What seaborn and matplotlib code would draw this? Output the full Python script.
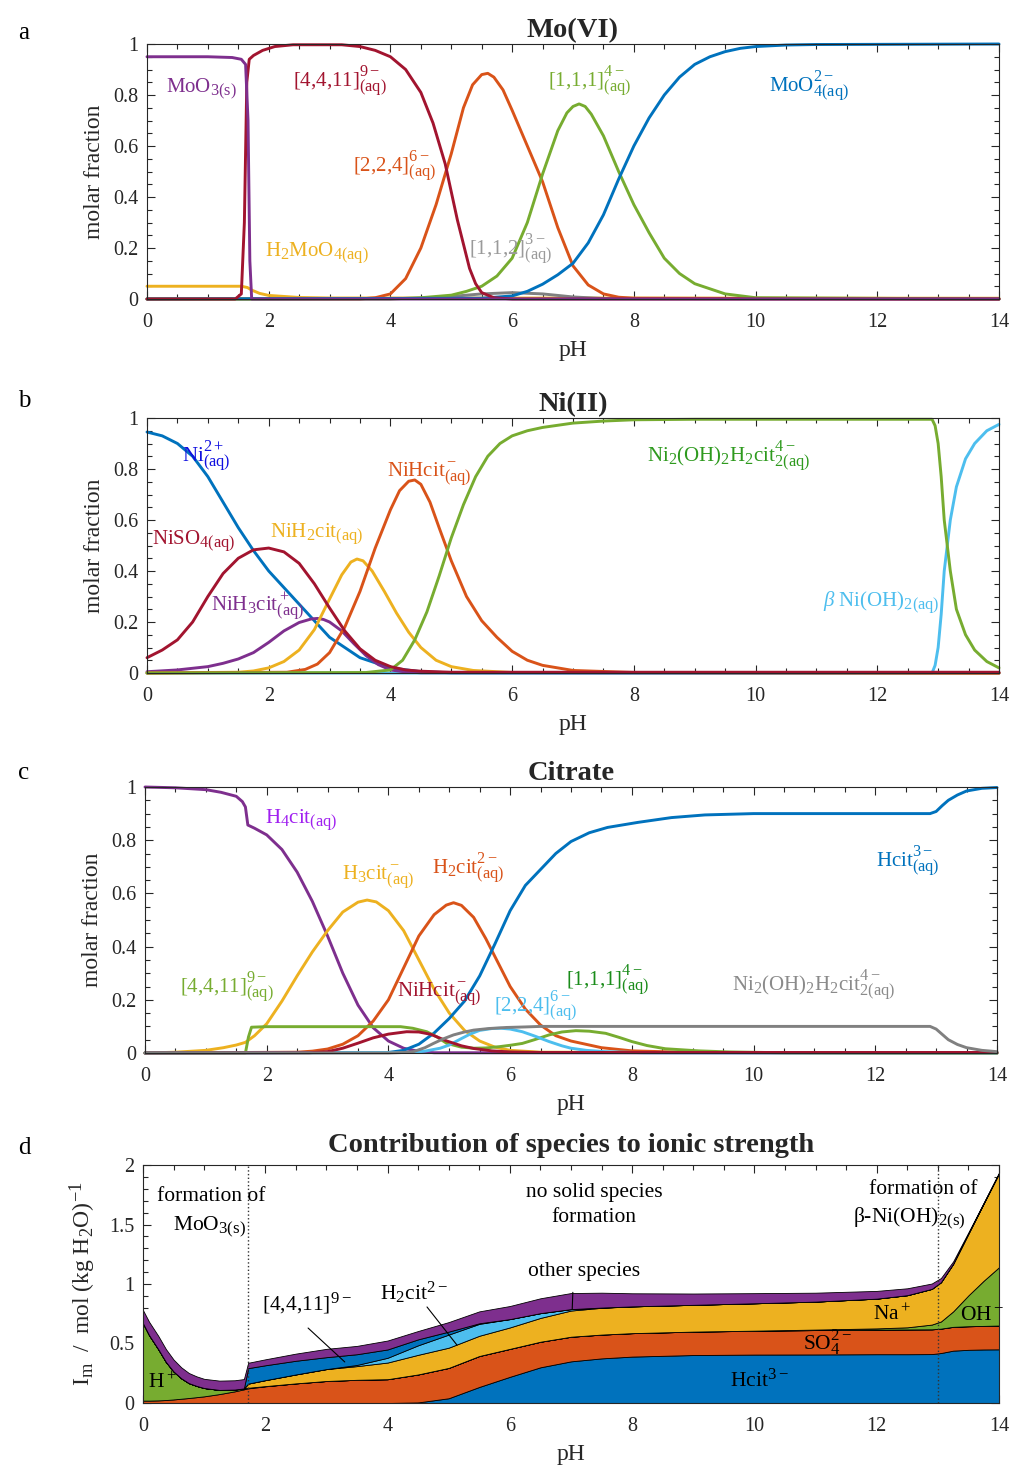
import numpy as np
import pandas as pd
import matplotlib
matplotlib.use('Agg')
import matplotlib.pyplot as plt
import seaborn as sns
from matplotlib.ticker import MultipleLocator, FuncFormatter
try:
    import matplotlib._mathtext as _mt
    _mt.SHRINK_FACTOR = 0.78
except Exception:
    pass

# ---------------- colours ----------------
C_BLUE = '#0072BD'; C_ORANGE = '#D95319'; C_YELLOW = '#EDB120'; C_PURPLE = '#7E2F8E'
C_GREEN = '#77AC30'; C_LBLUE = '#4DBEEE'; C_RED = '#A2142F'; C_GRAY = '#808080'

# ---------------- panel a : Mo(VI) ----------------
a_ph_moo3 = [0, 1.0, 1.4, 1.55, 1.62, 1.66, 1.69, 1.72, 14]
a_moo3 = [0.95, 0.95, 0.947, 0.94, 0.92, 0.7, 0.15, 0.0, 0.0]
a_ph_4411 = [0, 1.45, 1.55, 1.6, 1.64, 1.68, 1.75, 1.9, 2.1, 2.4, 3.2, 3.5, 3.75, 4.0, 4.25, 4.5, 4.7, 4.9, 5.1, 5.3, 5.4, 5.5, 5.7, 6.0, 14]
a_4411 = [0, 0, 0.02, 0.3, 0.85, 0.94, 0.955, 0.975, 0.99, 0.997, 0.997, 0.99, 0.975, 0.95, 0.9, 0.81, 0.69, 0.53, 0.31, 0.12, 0.06, 0.025, 0.005, 0, 0]
a_ph_224 = [0, 3.5, 3.75, 4.0, 4.25, 4.5, 4.75, 5.0, 5.2, 5.35, 5.5, 5.6, 5.7, 5.85, 6.0, 6.25, 6.5, 6.75, 7.0, 7.25, 7.5, 7.75, 8.0, 14]
a_224 = [0, 0, 0.005, 0.02, 0.08, 0.2, 0.37, 0.57, 0.75, 0.84, 0.88, 0.885, 0.87, 0.82, 0.74, 0.6, 0.46, 0.28, 0.13, 0.055, 0.02, 0.007, 0.003, 0]
a_ph_111 = [0, 4.0, 4.5, 5.0, 5.25, 5.5, 5.75, 6.0, 6.25, 6.5, 6.75, 6.9, 7.0, 7.1, 7.2, 7.3, 7.5, 7.75, 8.0, 8.25, 8.5, 8.75, 9.0, 9.5, 10.0, 14]
a_111 = [0, 0, 0.005, 0.015, 0.03, 0.05, 0.09, 0.16, 0.3, 0.49, 0.66, 0.73, 0.755, 0.765, 0.755, 0.725, 0.64, 0.5, 0.37, 0.26, 0.16, 0.1, 0.06, 0.02, 0.005, 0]
a_ph_moo4 = [0, 5.5, 6.0, 6.25, 6.5, 6.75, 7.0, 7.25, 7.5, 7.75, 8.0, 8.25, 8.5, 8.75, 9.0, 9.25, 9.5, 9.75, 10.0, 10.5, 11.0, 14]
a_moo4 = [0, 0.003, 0.012, 0.03, 0.058, 0.095, 0.14, 0.22, 0.33, 0.47, 0.6, 0.71, 0.8, 0.87, 0.92, 0.95, 0.97, 0.983, 0.99, 0.996, 0.998, 1.0]
a_ph_112 = [0, 4.5, 5.0, 5.5, 6.0, 6.5, 7.0, 7.5, 14]
a_112 = [0, 0.002, 0.01, 0.02, 0.025, 0.02, 0.008, 0.002, 0]
a_ph_h2moo4 = [0, 1.55, 1.65, 1.72, 1.85, 2.0, 2.5, 3.0, 14]
a_h2moo4 = [0.05, 0.05, 0.045, 0.035, 0.022, 0.014, 0.006, 0.004, 0.003]

# ---------------- panel b : Ni(II) ----------------
b_ph_ni = [0, 0.25, 0.5, 0.75, 1.0, 1.25, 1.5, 1.75, 2.0, 2.5, 3.0, 3.5, 4.0, 4.5, 5.0, 14]
b_ni = [0.945, 0.93, 0.9, 0.85, 0.77, 0.67, 0.57, 0.48, 0.40, 0.27, 0.14, 0.06, 0.02, 0.005, 0.001, 0]
b_ph_niso4 = [0, 0.25, 0.5, 0.75, 1.0, 1.25, 1.5, 1.75, 2.0, 2.25, 2.5, 2.75, 3.0, 3.25, 3.5, 3.75, 4.0, 4.25, 4.5, 5.0, 14]
b_niso4 = [0.06, 0.09, 0.13, 0.2, 0.3, 0.39, 0.45, 0.483, 0.49, 0.475, 0.43, 0.35, 0.255, 0.165, 0.095, 0.05, 0.025, 0.012, 0.007, 0.003, 0.003]
b_ph_nih3 = [0, 0.5, 1.0, 1.25, 1.5, 1.75, 2.0, 2.25, 2.5, 2.7, 2.8, 2.9, 3.0, 3.2, 3.4, 3.6, 3.8, 4.0, 4.25, 4.5, 14]
b_nih3 = [0.005, 0.012, 0.025, 0.038, 0.055, 0.08, 0.12, 0.165, 0.198, 0.212, 0.214, 0.21, 0.2, 0.165, 0.115, 0.068, 0.033, 0.012, 0.004, 0.001, 0]
b_ph_nih2 = [0, 1.5, 1.75, 2.0, 2.25, 2.5, 2.75, 3.0, 3.2, 3.35, 3.45, 3.55, 3.7, 3.9, 4.1, 4.3, 4.5, 4.75, 5.0, 5.36, 6.0, 14]
b_nih2 = [0, 0.003, 0.008, 0.02, 0.045, 0.09, 0.17, 0.29, 0.385, 0.435, 0.447, 0.44, 0.4, 0.32, 0.235, 0.16, 0.1, 0.05, 0.025, 0.01, 0.002, 0]
b_ph_nihcit = [0, 2.3, 2.6, 2.8, 3.0, 3.25, 3.5, 3.75, 4.0, 4.15, 4.3, 4.4, 4.5, 4.65, 4.8, 5.0, 5.25, 5.5, 5.75, 6.0, 6.25, 6.5, 7.0, 8.0, 14]
b_nihcit = [0, 0.003, 0.014, 0.035, 0.08, 0.18, 0.32, 0.49, 0.64, 0.715, 0.752, 0.757, 0.74, 0.67, 0.57, 0.44, 0.3, 0.205, 0.14, 0.085, 0.05, 0.03, 0.01, 0.002, 0]
b_ph_ni2 = [0, 3.6, 4.0, 4.2, 4.4, 4.6, 4.8, 5.0, 5.2, 5.4, 5.6, 5.8, 6.0, 6.25, 6.5, 7.0, 7.5, 8.0, 9.0, 12.9, 12.95, 13.0, 13.05, 13.1, 13.2, 13.3, 13.45, 13.6, 13.8, 14.0]
b_ni2 = [0, 0.002, 0.012, 0.05, 0.13, 0.24, 0.38, 0.53, 0.66, 0.77, 0.85, 0.9, 0.93, 0.95, 0.963, 0.98, 0.988, 0.993, 0.995, 0.995, 0.97, 0.9, 0.77, 0.6, 0.4, 0.25, 0.15, 0.09, 0.045, 0.02]
b_ph_bni = [0, 12.9, 12.95, 13.0, 13.05, 13.1, 13.2, 13.3, 13.45, 13.6, 13.8, 14.0]
b_bni = [0, 0, 0.03, 0.1, 0.23, 0.4, 0.6, 0.73, 0.84, 0.9, 0.95, 0.975]

# ---------------- panel c : Citrate ----------------
c_ph_h4 = [0, 0.5, 1.0, 1.25, 1.5, 1.6, 1.65, 1.69, 1.8, 2.0, 2.25, 2.5, 2.75, 3.0, 3.25, 3.5, 3.75, 4.0, 4.25, 4.5, 4.75, 14]
c_h4 = [1.0, 0.997, 0.99, 0.98, 0.965, 0.945, 0.925, 0.857, 0.845, 0.82, 0.765, 0.68, 0.57, 0.44, 0.3, 0.18, 0.095, 0.045, 0.018, 0.006, 0.001, 0]
c_ph_h3 = [0, 0.5, 1.0, 1.29, 1.5, 1.65, 1.8, 2.0, 2.25, 2.5, 2.75, 3.0, 3.25, 3.5, 3.65, 3.8, 4.0, 4.25, 4.5, 4.75, 5.0, 5.25, 5.5, 5.75, 6.0, 6.5, 14]
c_h3 = [0, 0.003, 0.01, 0.02, 0.03, 0.04, 0.065, 0.11, 0.195, 0.29, 0.38, 0.46, 0.53, 0.567, 0.575, 0.568, 0.535, 0.46, 0.35, 0.24, 0.15, 0.085, 0.045, 0.022, 0.01, 0.003, 0]
c_ph_h2 = [0, 2.5, 2.75, 3.0, 3.25, 3.5, 3.75, 4.0, 4.25, 4.5, 4.75, 4.95, 5.07, 5.2, 5.4, 5.6, 5.8, 6.0, 6.25, 6.5, 6.75, 7.0, 7.5, 8.0, 9.0, 14]
c_h2 = [0, 0.003, 0.007, 0.015, 0.033, 0.065, 0.12, 0.2, 0.32, 0.44, 0.52, 0.556, 0.565, 0.555, 0.51, 0.43, 0.34, 0.25, 0.165, 0.105, 0.065, 0.045, 0.02, 0.008, 0.002, 0]
c_ph_hcit = [0, 4.0, 4.25, 4.5, 4.75, 5.0, 5.25, 5.5, 5.75, 6.0, 6.25, 6.5, 6.75, 7.0, 7.3, 7.6, 8.1, 8.65, 9.2, 10.0, 12.9, 13.0, 13.1, 13.2, 13.35, 13.5, 13.75, 14.0]
c_hcit = [0, 0.002, 0.01, 0.033, 0.075, 0.13, 0.195, 0.29, 0.41, 0.535, 0.63, 0.69, 0.75, 0.795, 0.828, 0.848, 0.867, 0.885, 0.895, 0.9, 0.9, 0.908, 0.93, 0.95, 0.97, 0.985, 0.995, 0.998]
c_ph_mocit = [0, 1.65, 1.7, 1.75, 2.0, 4.2, 4.4, 4.63, 4.8, 4.96, 5.2, 5.4, 5.6, 5.83, 6.0, 6.2, 6.4, 6.64, 6.85, 7.08, 7.3, 7.57, 7.8, 8.0, 8.25, 8.55, 9.1, 9.6, 10.5, 14]
c_mocit = [0, 0, 0.06, 0.097, 0.099, 0.099, 0.093, 0.08, 0.06, 0.036, 0.022, 0.018, 0.019, 0.024, 0.029, 0.036, 0.05, 0.068, 0.079, 0.084, 0.082, 0.074, 0.058, 0.043, 0.028, 0.016, 0.008, 0.004, 0.001, 0]
c_ph_ni2 = [0, 4.0, 4.25, 4.41, 4.6, 4.74, 4.9, 5.07, 5.25, 5.4, 5.65, 5.94, 6.25, 6.5, 12.9, 13.0, 13.1, 13.2, 13.35, 13.5, 13.75, 14.0]
c_ni2 = [0, 0, 0.002, 0.005, 0.02, 0.036, 0.053, 0.068, 0.079, 0.086, 0.092, 0.096, 0.098, 0.1, 0.1, 0.09, 0.07, 0.05, 0.032, 0.02, 0.01, 0.005]
c_ph_nihcit = [0, 2.7, 3.0, 3.25, 3.5, 3.75, 4.0, 4.3, 4.5, 4.7, 4.96, 5.2, 5.4, 5.7, 6.0, 6.5, 14]
c_nihcit = [0, 0.001, 0.005, 0.018, 0.037, 0.057, 0.071, 0.08, 0.079, 0.07, 0.045, 0.027, 0.017, 0.008, 0.004, 0.002, 0.002]
c_ph_224 = [0, 4.4, 4.6, 4.85, 5.0, 5.18, 5.35, 5.5, 5.7, 5.85, 6.0, 6.2, 6.4, 6.64, 6.85, 7.0, 7.25, 7.56, 8.2, 14]
c_224 = [0, 0.002, 0.007, 0.018, 0.03, 0.052, 0.072, 0.085, 0.092, 0.093, 0.09, 0.08, 0.064, 0.043, 0.027, 0.018, 0.01, 0.005, 0.001, 0]

# ---------------- panel d : ionic strength contributions ----------------
d_ph = [0, 0.1, 0.25, 0.375, 0.5, 0.625, 0.75, 0.875, 1.0, 1.25, 1.5, 1.65, 1.72, 2.0, 2.5, 3.0, 3.5, 4.0, 4.5, 5.0, 5.5,
        6.0, 6.5, 7.0, 7.5, 8.0, 9.0, 10.0, 11.0, 12.0, 12.5, 12.9, 13.05, 13.25, 13.5, 13.75, 14.0]
d_hcit = [0, 0, 0, 0, 0, 0, 0, 0, 0, 0, 0, 0, 0, 0, 0, 0, 0, 0, 0.005, 0.04, 0.135,
          0.22, 0.3, 0.35, 0.375, 0.39, 0.403, 0.407, 0.408, 0.41, 0.41, 0.411, 0.42, 0.44, 0.447, 0.45, 0.451]
d_so4 = [0.02, 0.02, 0.022, 0.025, 0.03, 0.036, 0.042, 0.049, 0.056, 0.075, 0.098, 0.115, 0.123, 0.14, 0.165, 0.185, 0.195, 0.2, 0.235, 0.255, 0.26,
         0.235, 0.215, 0.207, 0.2, 0.197, 0.197, 0.2, 0.205, 0.207, 0.208, 0.208, 0.205, 0.2, 0.198, 0.198, 0.2]
d_hplus = [0.65, 0.55, 0.43, 0.32, 0.235, 0.172, 0.125, 0.095, 0.07, 0.035, 0.015, 0.008, 0.005, 0.002, 0, 0, 0, 0, 0, 0, 0,
           0, 0, 0, 0, 0, 0, 0, 0, 0, 0, 0, 0, 0, 0, 0, 0]
d_ohminus = [0, 0, 0, 0, 0, 0, 0, 0, 0, 0, 0, 0, 0, 0, 0, 0, 0, 0, 0, 0, 0,
             0, 0, 0, 0, 0, 0, 0.001, 0.004, 0.01, 0.018, 0.04, 0.06, 0.13, 0.26, 0.38, 0.49]
d_na = [0, 0, 0, 0, 0, 0, 0, 0, 0, 0, 0, 0, 0.035, 0.05, 0.075, 0.1, 0.115, 0.14, 0.165, 0.17, 0.17,
        0.18, 0.2, 0.22, 0.225, 0.225, 0.225, 0.23, 0.235, 0.25, 0.27, 0.3, 0.33, 0.4, 0.52, 0.65, 0.79]
d_h2cit = [0, 0, 0, 0, 0, 0, 0, 0, 0, 0, 0, 0, 0, 0, 0, 0, 0.01, 0.04, 0.08, 0.11, 0.1,
           0.07, 0.04, 0.012, 0.002, 0, 0, 0, 0, 0, 0, 0, 0, 0, 0, 0, 0]
d_4411 = [0, 0, 0, 0, 0, 0, 0, 0, 0, 0, 0, 0, 0.13, 0.125, 0.115, 0.1, 0.09, 0.07, 0.05, 0.025, 0.005,
          0, 0, 0, 0, 0, 0, 0, 0, 0, 0, 0, 0, 0, 0, 0, 0]
d_other = [0.11, 0.112, 0.112, 0.108, 0.1, 0.092, 0.085, 0.08, 0.077, 0.078, 0.078, 0.078, 0.045, 0.05, 0.06, 0.07, 0.07, 0.075, 0.07, 0.08, 0.1,
           0.11, 0.125, 0.135, 0.125, 0.11, 0.095, 0.085, 0.075, 0.065, 0.058, 0.045, 0.035, 0.02, 0.01, 0.007, 0.005]

# ---------------- style ----------------
sns.set_theme(style='ticks')
plt.rcParams['font.family'] = ['Liberation Serif', 'DejaVu Serif']
plt.rcParams['mathtext.fontset'] = 'custom'
plt.rcParams['mathtext.rm'] = 'Liberation Serif'
plt.rcParams['mathtext.it'] = 'Liberation Serif:italic'
plt.rcParams['mathtext.bf'] = 'Liberation Serif:bold'
plt.rcParams['axes.linewidth'] = 0.8
plt.rcParams['axes.edgecolor'] = '#262626'

W, H = 1012, 1466
fig = plt.figure(figsize=(W / 100, H / 100), dpi=100)


def add_ax(l, r, t, b):
    return fig.add_axes([l / W, 1 - b / H, (r - l) / W, (b - t) / H])


def style(ax, ymax, ymaj, ymin, ylabel, title, title_pad, ylabelpad=6, ylfs=17):
    ax.set_xlim(0, 14)
    ax.set_ylim(0, ymax)
    ax.xaxis.set_major_locator(MultipleLocator(2))
    ax.xaxis.set_minor_locator(MultipleLocator(0.5))
    ax.yaxis.set_major_locator(MultipleLocator(ymaj))
    ax.yaxis.set_minor_locator(MultipleLocator(ymin))
    ax.yaxis.set_major_formatter(FuncFormatter(lambda v, p: f'{v:g}'))
    ax.tick_params(which='both', direction='in', top=True, right=True,
                   labelsize=14.5, color='#262626', labelcolor='#262626', width=0.8)
    ax.tick_params(which='major', length=6)
    ax.tick_params(which='minor', length=3.5)
    ax.tick_params(axis='x', which='major', pad=10)
    ax.tick_params(axis='y', which='major', pad=6)
    ax.set_xlabel('pH', fontsize=17, labelpad=6, color='#262626')
    ax.set_ylabel(ylabel, fontsize=ylfs, labelpad=ylabelpad, color='#262626')
    ax.set_title(title, fontsize=20.5, fontweight='bold', pad=title_pad)


def line(ax, x, y, c, z=2):
    sns.lineplot(x=x, y=y, ax=ax, color=c, linewidth=2.1, sort=False, estimator=None,
                 clip_on=False, zorder=z)


def lab(ax, x, y, s, c, fs=15, ha='left'):
    ax.text(x, y, s, color=c, fontsize=fs, ha=ha, va='baseline')


# ---- panel a ----
ax = add_ax(147, 999, 44, 299)
line(ax, a_ph_h2moo4, a_h2moo4, C_YELLOW)
line(ax, a_ph_112, a_112, C_GRAY)
line(ax, a_ph_224, a_224, C_ORANGE)
line(ax, a_ph_111, a_111, C_GREEN)
line(ax, a_ph_moo4, a_moo4, C_BLUE)
line(ax, a_ph_4411, a_4411, C_RED)
line(ax, a_ph_moo3, a_moo3, C_PURPLE)
style(ax, 1, 0.2, 0.05, 'molar fraction', 'Mo(VI)', 5)
lab(ax, 0.31, 0.812, r'$\mathrm{MoO_{3(s)}}$', C_PURPLE)
lab(ax, 2.40, 0.831, r'$\mathrm{[4{,}4{,}11]^{9-}_{(aq)}}$', C_RED)
lab(ax, 3.385, 0.498, r'$\mathrm{[2{,}2{,}4]^{6-}_{(aq)}}$', C_ORANGE)
lab(ax, 6.59, 0.831, r'$\mathrm{[1{,}1{,}1]^{4-}_{(aq)}}$', C_GREEN)
lab(ax, 10.22, 0.812, r'$\mathrm{MoO^{2-}_{4(aq)}}$', C_BLUE)
lab(ax, 1.94, 0.165, r'$\mathrm{H_2MoO_{4(aq)}}$', C_YELLOW)
lab(ax, 5.29, 0.173, r'$\mathrm{[1{,}1{,}2]^{3-}_{(aq)}}$', '#9a9a9a')

# ---- panel b ----
ax = add_ax(147, 999, 418, 673)
line(ax, b_ph_bni, b_bni, C_LBLUE)
line(ax, b_ph_ni, b_ni, C_BLUE)
line(ax, b_ph_nih3, b_nih3, C_PURPLE)
line(ax, b_ph_nih2, b_nih2, C_YELLOW)
line(ax, b_ph_nihcit, b_nihcit, C_ORANGE)
line(ax, b_ph_ni2, b_ni2, C_GREEN)
line(ax, b_ph_niso4, b_niso4, C_RED)
style(ax, 1, 0.2, 0.05, 'molar fraction', 'Ni(II)', 5)
lab(ax, 0.575, 0.827, r'$\mathrm{Ni^{2+}_{(aq)}}$', '#1010E0')
lab(ax, 0.08, 0.502, r'$\mathrm{NiSO_{4(aq)}}$', C_RED)
lab(ax, 2.02, 0.53, r'$\mathrm{NiH_2cit_{(aq)}}$', C_YELLOW)
lab(ax, 1.05, 0.243, r'$\mathrm{NiH_3cit^+_{(aq)}}$', C_PURPLE)
lab(ax, 3.94, 0.769, r'$\mathrm{NiHcit^-_{(aq)}}$', C_ORANGE)
lab(ax, 8.22, 0.827, r'$\mathrm{Ni_2(OH)_2H_2cit^{4-}_{2(aq)}}$', '#2E9A1E')
lab(ax, 11.11, 0.259, r'$\beta\ \mathrm{Ni(OH)_{2(aq)}}$', C_LBLUE)

# ---- panel c ----
ax = add_ax(145, 997, 787, 1053)
line(ax, c_ph_h4, c_h4, C_PURPLE)
line(ax, c_ph_h3, c_h3, C_YELLOW)
line(ax, c_ph_h2, c_h2, C_ORANGE)
line(ax, c_ph_hcit, c_hcit, C_BLUE)
line(ax, c_ph_mocit, c_mocit, C_GREEN)
line(ax, c_ph_224, c_224, C_LBLUE)
line(ax, c_ph_nihcit, c_nihcit, C_RED)
line(ax, c_ph_ni2, c_ni2, C_GRAY)
style(ax, 1, 0.2, 0.05, 'molar fraction', 'Citrate', 5)
lab(ax, 1.97, 0.861, r'$\mathrm{H_4cit_{(aq)}}$', '#A020F0')
lab(ax, 3.24, 0.65, r'$\mathrm{H_3cit^-_{(aq)}}$', C_YELLOW)
lab(ax, 4.72, 0.673, r'$\mathrm{H_2cit^{2-}_{(aq)}}$', C_ORANGE)
lab(ax, 0.575, 0.226, r'$\mathrm{[4{,}4{,}11]^{9-}_{(aq)}}$', C_GREEN)
lab(ax, 4.14, 0.21, r'$\mathrm{NiHcit^-_{(aq)}}$', C_RED)
lab(ax, 5.73, 0.154, r'$\mathrm{[2{,}2{,}4]^{6-}_{(aq)}}$', C_LBLUE)
lab(ax, 6.92, 0.252, r'$\mathrm{[1{,}1{,}1]^{4-}_{(aq)}}$', '#1A8C1A')
lab(ax, 12.01, 0.699, r'$\mathrm{Hcit^{3-}_{(aq)}}$', C_BLUE)
lab(ax, 9.65, 0.233, r'$\mathrm{Ni_2(OH)_2H_2cit^{4-}_{2(aq)}}$', '#8a8a8a')

# ---- panel d ----
ax = add_ax(143, 999, 1165, 1403)
ax.stackplot(d_ph, d_hcit, d_so4, d_hplus, d_ohminus, d_na, d_h2cit, d_4411, d_other,
             colors=[C_BLUE, C_ORANGE, C_GREEN, C_GREEN, C_YELLOW, C_LBLUE, C_BLUE, C_PURPLE],
             edgecolor='black', linewidth=0.6, zorder=2)
style(ax, 2, 0.5, 0.1, r'$\mathrm{I_m\ \ /\ \ mol\ (kg\ H_2O)^{-1}}$',
      'Contribution of species to ionic strength', 9, ylabelpad=8, ylfs=17)
ax.axvline(1.717, ls=':', color='#333333', lw=1.0, zorder=3)
ax.axvline(13.0, ls=':', color='#333333', lw=1.0, zorder=3)
fs_d = 15.5
lab(ax, 1.11, 1.70, 'formation of', 'black', fs_d, ha='center')
lab(ax, 0.49, 1.454, r'$\mathrm{MoO_{3(s)}}$', 'black', fs_d)
lab(ax, 7.38, 1.73, 'no solid species', 'black', fs_d, ha='center')
lab(ax, 7.38, 1.52, 'formation', 'black', fs_d, ha='center')
lab(ax, 12.76, 1.756, 'formation of', 'black', fs_d, ha='center')
lab(ax, 11.61, 1.52, r'$\mathrm{\beta}$-$\mathrm{Ni(OH)_{2(s)}}$', 'black', fs_d)
lab(ax, 7.21, 1.067, 'other species', 'black', fs_d, ha='center')
ax.plot([7.03, 7.02], [0.93, 0.79], color='black', lw=0.8, zorder=4)
lab(ax, 1.95, 0.78, r'$\mathrm{[4{,}4{,}11]^{9-}}$', 'black', fs_d)
ax.plot([2.70, 3.30], [0.63, 0.345], color='black', lw=0.8, zorder=4)
lab(ax, 3.88, 0.866, r'$\mathrm{H_2cit^{2-}}$', 'black', fs_d)
ax.plot([4.645, 5.135], [0.807, 0.487], color='black', lw=0.8, zorder=4)
lab(ax, 11.94, 0.70, r'$\mathrm{Na^+}$', 'black', fs_d)
lab(ax, 10.79, 0.445, r'$\mathrm{SO^{2-}_4}$', 'black', fs_d)
lab(ax, 13.36, 0.70, r'$\mathrm{OH^-}$', 'black', fs_d)
lab(ax, 9.6, 0.134, r'$\mathrm{Hcit^{3-}}$', 'black', fs_d)
lab(ax, 0.08, 0.126, r'$\mathrm{H^+}$', 'black', fs_d)

# panel letters
for letter, py in [('a', 33), ('b', 401), ('c', 773), ('d', 1148)]:
    fig.text(18 / W, 1 - py / H, letter, fontsize=18, va='center', ha='left', color='black')

fig.savefig('out.png', dpi=100)
